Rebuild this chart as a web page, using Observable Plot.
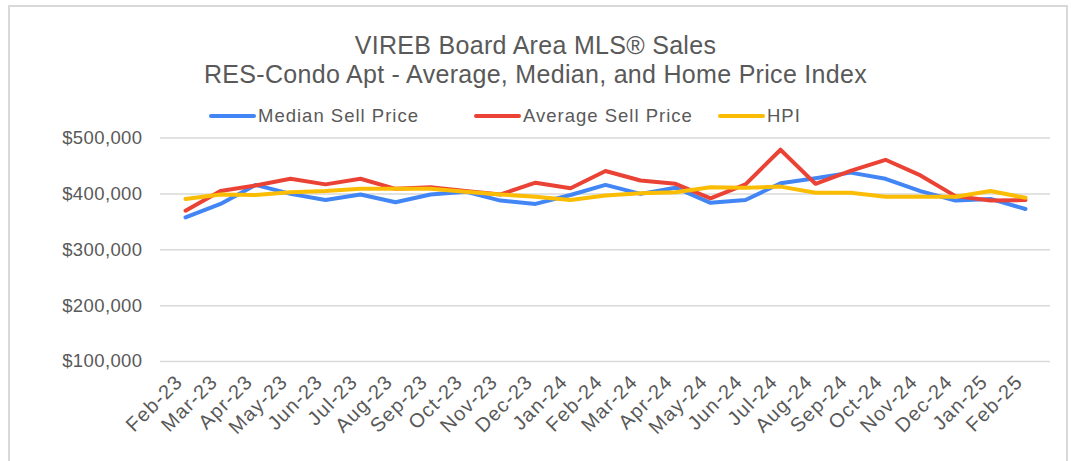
<!DOCTYPE html>
<html>
<head>
<meta charset="utf-8">
<script src="https://cdn.jsdelivr.net/npm/d3@7"></script>
<script src="https://cdn.jsdelivr.net/npm/@observablehq/plot@0.6"></script>
<style>
  html, body { margin: 0; padding: 0; background: #fff; }
  #wrap { position: relative; width: 1071px; height: 461px; overflow: hidden; font-family: "Liberation Sans", Arial, sans-serif; color: #595959; }
  #frame { position: absolute; left: 8px; top: 5px; width: 1056px; height: 470px; border: 2px solid #d9d9d9; box-sizing: content-box; pointer-events: none; }
  #header { position: relative; height: 128px; }
  .title { position: absolute; left: 0; width: 1071px; text-align: center; font-size: 25px; white-space: nowrap; letter-spacing: 0.3px; }
  .leg { position: absolute; top: 105px; display: flex; align-items: center; font-size: 18.5px; letter-spacing: 1px; white-space: nowrap; }
  .sw { display: inline-block; width: 47px; height: 4px; border-radius: 2px; margin-right: 2px; }
  #chart svg { display: block; }
  #chart svg g[aria-label="x-axis tick label"] text { letter-spacing: 1.2px; }
  #chart svg g[aria-label="y-axis tick label"] text { letter-spacing: 0.4px; }
</style>
</head>
<body>
<div id="wrap">
  <div id="frame"></div>
  <div id="header">
    <div class="title" id="t1" style="top:31px"></div>
    <div class="title" id="t2" style="top:60px"></div>
    <div id="legend"></div>
  </div>
  <div id="chart"></div>
</div>
<script>
const titleLine1 = "VIREB Board Area MLS® Sales";
const titleLine2 = "RES-Condo Apt - Average, Median, and Home Price Index";

const months = ["Feb-23","Mar-23","Apr-23","May-23","Jun-23","Jul-23","Aug-23","Sep-23","Oct-23","Nov-23","Dec-23","Jan-24",
                "Feb-24","Mar-24","Apr-24","May-24","Jun-24","Jul-24","Aug-24","Sep-24","Oct-24","Nov-24","Dec-24","Jan-25","Feb-25"];
const medianSellPrice = [358000,382000,416000,400000,389000,399000,385000,399000,404000,388000,382000,398000,
                         416000,400000,411000,384000,389000,419000,428000,438000,427000,405000,388000,391000,373000];
const averageSellPrice = [370000,405000,415000,427000,417000,427000,409000,412000,405000,399000,420000,410000,
                          441000,424000,418000,392000,417000,479000,418000,441000,461000,433000,396000,388000,389000];
const hpi = [391000,399000,398000,403000,405000,409000,409000,409000,404000,399000,395000,389000,
             397000,401000,403000,412000,411000,413000,402000,402000,395000,395000,395000,405000,393000];

const seriesNames = ["Median Sell Price", "Average Sell Price", "HPI"];
const seriesColors = ["#4285F4", "#EA4335", "#FBBC04"];
const yTicks = [100000, 200000, 300000, 400000, 500000];

document.getElementById("t1").textContent = titleLine1;
document.getElementById("t2").textContent = titleLine2;

const legendX = [209, 474, 718];
const legend = document.getElementById("legend");
seriesNames.forEach((name, i) => {
  const item = document.createElement("div");
  item.className = "leg";
  item.style.left = legendX[i] + "px";
  const sw = document.createElement("span");
  sw.className = "sw";
  sw.style.background = seriesColors[i];
  const tx = document.createElement("span");
  tx.textContent = name;
  item.appendChild(sw);
  item.appendChild(tx);
  legend.appendChild(item);
});

const valueArrays = [medianSellPrice, averageSellPrice, hpi];
const rows = [];
seriesNames.forEach((s, i) => months.forEach((m, j) => rows.push({series: s, month: m, value: valueArrays[i][j]})));

const fmt = d3.format(",");
const chart = Plot.plot({
  width: 1071,
  height: 333,
  marginTop: 9.5,
  marginBottom: 100,
  marginLeft: 160,
  marginRight: 21,
  style: {fontFamily: "'Liberation Sans', Arial, sans-serif", color: "#595959", background: "transparent", overflow: "visible"},
  x: {type: "point", domain: months, padding: 0.5},
  y: {domain: [100000, 500000]},
  color: {domain: seriesNames, range: seriesColors},
  marks: [
    Plot.ruleY(yTicks, {stroke: "#d9d9d9", strokeWidth: 1.5}),
    Plot.axisY({ticks: yTicks, tickSize: 0, tickPadding: 18, fontSize: 18.5, tickFormat: d => "$" + fmt(d), label: null}),
    Plot.axisX({tickSize: 0, tickPadding: 14, tickRotate: -45, fontSize: 20, dx: -6, dy: 3, label: null}),
    Plot.line(rows, {x: "month", y: "value", z: "series", stroke: "series", strokeWidth: 4, strokeLinejoin: "round", strokeLinecap: "round"})
  ]
});
document.getElementById("chart").appendChild(chart);
</script>
</body>
</html>
